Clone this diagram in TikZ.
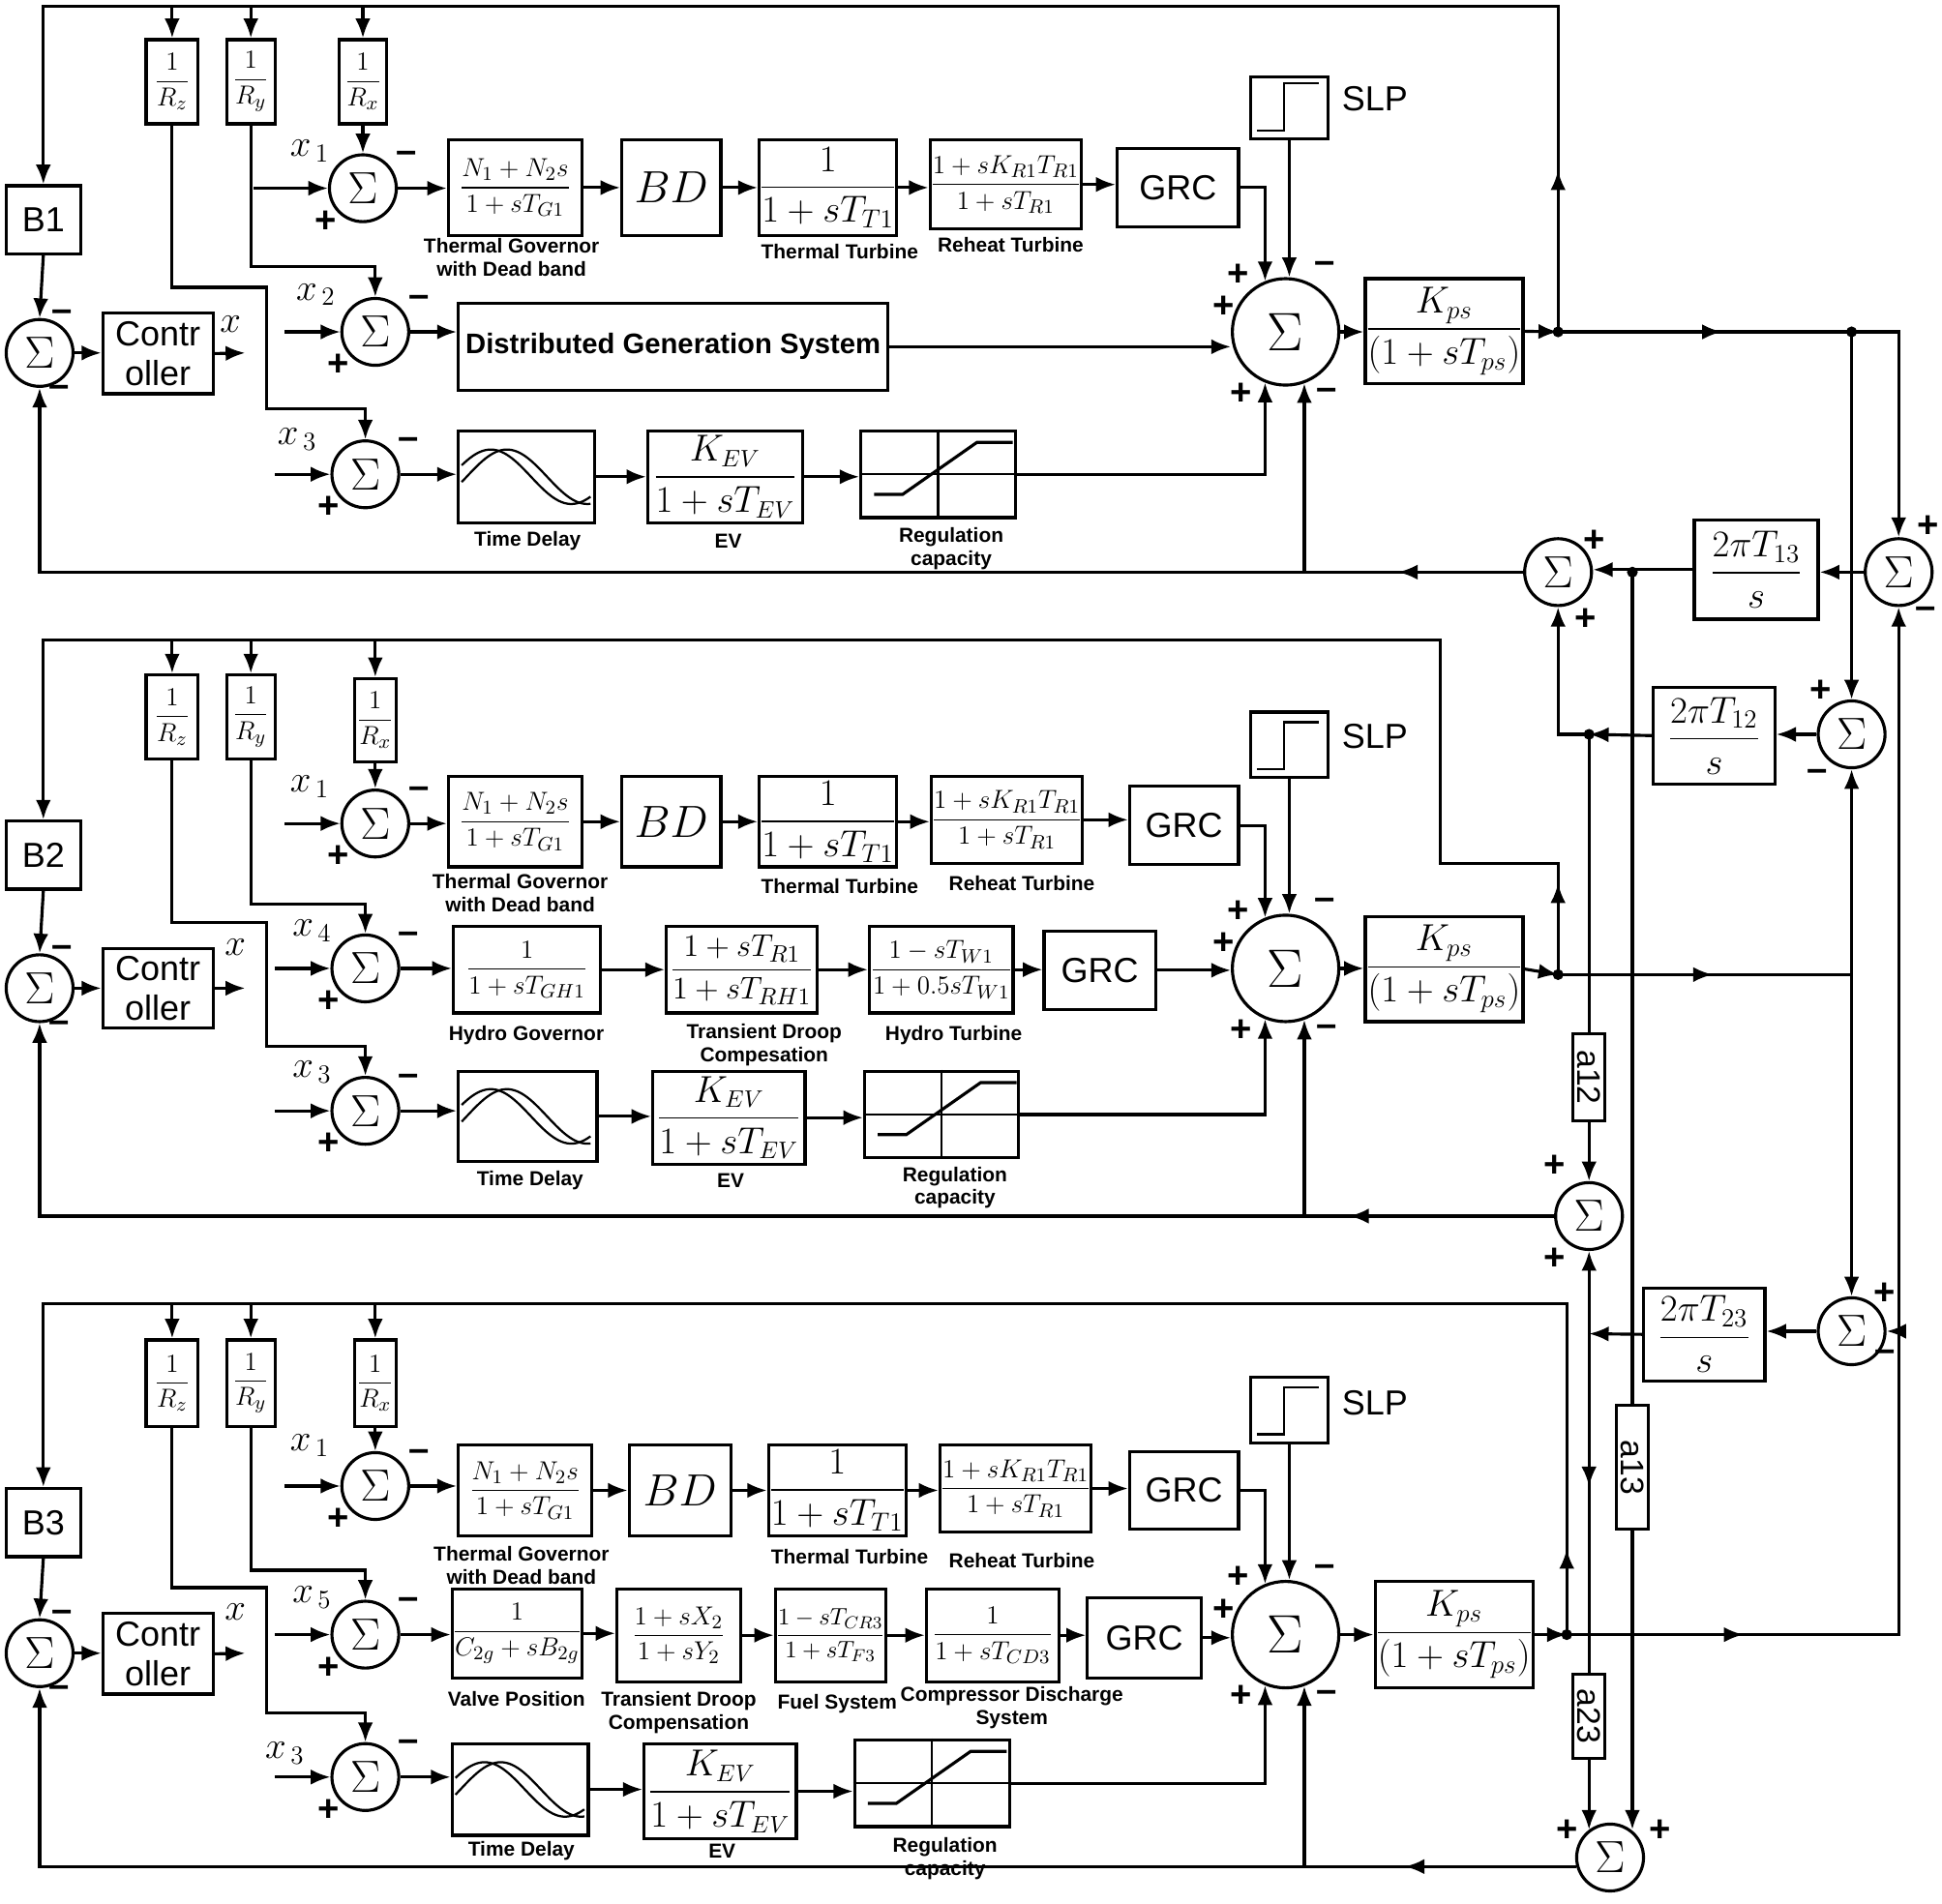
\documentclass[tikz,border=0pt]{standalone}
\usepackage{fontspec}
\setsansfont{Liberation Sans}
\usepackage{amsmath}
\usetikzlibrary{arrows.meta,calc,decorations.markings}

\tikzset{
  arr/.style={-{Latex[length=9pt,width=7pt]}},
  mid/.style={postaction={decorate},decoration={markings,mark=at position #1 with {\arrow{Latex[length=9pt,width=7pt]}}}},
  blk/.style={draw,rectangle,inner sep=0pt,align=center,font=\fontsize{13}{15}\selectfont},
  tblk/.style={blk,font=\sffamily\fontsize{16}{18}\selectfont},
  sumn/.style={draw,circle,minimum size=1.08cm,inner sep=0pt,font=\fontsize{20}{20}\selectfont},
  bigsum/.style={draw,circle,minimum size=1.72cm,inner sep=0pt,font=\fontsize{26}{26}\selectfont},
  lbl/.style={align=center,font=\sffamily\bfseries\fontsize{9.3}{10.5}\selectfont},
  sgn/.style={font=\sffamily\bfseries\fontsize{17}{17}\selectfont,inner sep=0pt},
  xl/.style={font=\fontsize{18}{18}\selectfont,inner sep=0pt},
  rot/.style={blk,font=\sffamily\fontsize{15}{15}\selectfont}
}
% box from corner pixels
\newcommand\blk[7][blk]{\node[#1,minimum width={(#5-#3)*0.02cm},minimum height={(#6-#4)*0.02cm}] (#2) at ({(#3+#5)/2},{(#4+#6)/2}) {#7};}
\newcommand\ssgn[1]{\node[sgn] at ($(#1)+(35,-25)$) {--}; \node[sgn] at ($(#1)+(-30,27)$) {+};}
\newcommand\bsgn[1]{\node[sgn] at ($(#1)+(-38,-46)$) {+}; \node[sgn] at ($(#1)+(-50,-20)$) {+};
  \node[sgn] at ($(#1)+(32,-52)$) {--}; \node[sgn] at ($(#1)+(-36,50)$) {+}; \node[sgn] at ($(#1)+(33,50)$) {--};}
\newcommand\rcap[1]{\draw[line width=1pt] (#1.north) -- (#1.south) (#1.west) -- (#1.east);
  \draw[shift={(#1.south west)}] (12,-20) -- (35,-20) -- (95,-62) -- (124,-62);}
\newcommand\tdel[1]{\draw[line width=1pt,shift={(#1.west)},domain=4:108,samples=50,smooth] plot (\x,{-22*sin((\x+5)*2.77)});
  \draw[line width=1pt,shift={(#1.west)},domain=4:108,samples=50,smooth] plot (\x,{-22*sin((\x-8)*2.77)});}
\newcommand\slp[1]{\draw[line width=1pt,shift={(#1.south west)}] (6,-8) -- (28,-8) -- (28,-46) -- (56,-46);}

\begin{document}
\begin{tikzpicture}[x=0.02cm,y=-0.02cm,line width=1.4pt]
\useasboundingbox (0,0) rectangle (1568,1537);

% ---------------- area 1 ----------------
\coordinate (tp1) at (1258,5);
\coordinate (o1) at (1258,268);
\coordinate (o1b) at (1495,268);
\coordinate (xo1) at (198,285);
\blk{rz1}{118}{32}{160}{100}{$\dfrac{1}{R_z}$}
\blk{ry1}{183}{32}{222}{100}{$\dfrac{1}{R_y}$}
\blk{rx1}{274}{32}{312}{100}{$\dfrac{1}{R_x}$}
\blk[tblk]{b1}{5}{150}{65}{205}{B1}
\node[sumn] (sl1) at (32,285) {$\Sigma$};
\blk[tblk]{c1}{83}{253}{172}{318}{Contr\\oller}
\node[xl] at (186,262) {$x$};
\node[sumn] (sa1) at (293,152) {$\Sigma$};
\node[sumn] (sb1) at (303,268) {$\Sigma$};
\node[sumn] (sc1) at (295,383) {$\Sigma$};
\node[xl] at (250,122) {$x_{\,1}$};
\node[xl] at (255,238) {$x_{\,2}$};
\node[xl] at (240,355) {$x_{\,3}$};
\ssgn{sa1} \ssgn{sb1} \ssgn{sc1}
\node[sgn] at (50,255) {--}; \node[sgn] at (48,316) {--};
\blk{tg1}{362}{113}{470}{190}{$\dfrac{N_1+N_2s}{1+sT_{G1}}$}
\blk[blk,font=\fontsize{22}{22}\selectfont]{bd1}{502}{113}{582}{190}{$BD$}
\blk{tt1}{617}{113}{720}{190}{\fontsize{17}{19}\selectfont$\dfrac{1}{1+sT_{T1}}$}
\blk{rt1}{754}{113}{870}{185}{$\dfrac{1+sK_{R1}T_{R1}}{1+sT_{R1}}$}
\blk[tblk]{grc1}{902}{120}{1000}{183}{GRC}
\blk{slp1}{1010}{62}{1072}{112}{}
\node[font=\sffamily\fontsize{16}{18}\selectfont] at (1110,80) {SLP};
\node[bigsum] (bs1) at (1038,268) {$\Sigma$};
\bsgn{bs1}
\blk{kp1}{1110}{225}{1222}{310}{\fontsize{17}{19}\selectfont$\dfrac{K_{ps}}{(1+sT_{ps})}$}
\blk[blk,font=\sffamily\bfseries\fontsize{13}{15}\selectfont]{dg1}{370}{245}{717}{315}{Distributed Generation System}
\blk{de1}{370}{348}{480}{422}{}
\blk{ev1}{523}{348}{648}{422}{\fontsize{16}{18}\selectfont$\dfrac{K_{EV}}{1+sT_{EV}}$}
\blk{rc1}{695}{348}{820}{418}{}
\tdel{de1} \rcap{rc1} \slp{slp1}
\node[lbl] at (413,208) {Thermal Governor\\with Dead band};
\node[lbl] at (678,203) {Thermal Turbine};
\node[lbl] at (816,198) {Reheat Turbine};
\node[lbl] at (426,437) {Time Delay};
\node[lbl] at (588,437) {EV};
\node[lbl] at (768,443) {Regulation\\capacity};

\draw[arr,mid=0.08] (o1) -- (tp1) -| (b1.north);
\draw[arr] (rz1.north |- tp1) -- (rz1.north);
\draw[arr] (ry1.north |- tp1) -- (ry1.north);
\draw[arr] (rx1.north |- tp1) -- (rx1.north);
\draw[arr] (b1.south) -- (sl1.north);
\draw[arr] (sl1.east) -- (sl1.east -| c1.west);
\draw[arr] (c1.east) -- (xo1);
\draw[arr] (rx1.south) -- (sa1.north);
\draw[arr] (ry1.south) |- (303,215) -- (sb1.north);
\draw[arr] (rz1.south) |- (215,232) |- (295,330) -- (sc1.north);
\draw[arr] (sa1.west) ++(-60,0) -- (sa1.west);
\draw[arr] (sb1.west) ++(-45,0) -- (sb1.west);
\draw[arr] (sc1.west) ++(-45,0) -- (sc1.west);
\draw[arr] (sa1.east) -- (sa1.east -| tg1.west);
\draw[arr] (tg1.east) -- (tg1.east -| bd1.west);
\draw[arr] (bd1.east) -- (bd1.east -| tt1.west);
\draw[arr] (tt1.east) -- (tt1.east -| rt1.west);
\draw[arr] (rt1.east) -- (rt1.east -| grc1.west);
\draw[arr] (grc1.east) -| (bs1.112);
\draw[arr] (slp1.south) -- (slp1.south |- bs1.north);
\draw[arr] (sb1.east) -- (sb1.east -| dg1.west);
\draw[arr] (dg1.east) -- (dg1.east -| bs1.west);
\draw[arr] (sc1.east) -- (sc1.east -| de1.west);
\draw[arr] (de1.east) -- (de1.east -| ev1.west);
\draw[arr] (ev1.east) -- (ev1.east -| rc1.west);
\draw[arr] (rc1.east) -| (bs1.248);
\draw[arr] (bs1.east) -- (bs1.east -| kp1.west);
\draw[arr] (kp1.east) -- (o1);

% ---------------- area 2 ----------------
\coordinate (tp2) at (1163,517);
\coordinate (o2) at (1258,787);
\coordinate (r2) at (1495,787);
\coordinate (xo2) at (198,798);
\blk{rz2}{118}{545}{160}{613}{$\dfrac{1}{R_z}$}
\blk{ry2}{183}{545}{222}{613}{$\dfrac{1}{R_y}$}
\blk{rx2}{286}{548}{320}{615}{$\dfrac{1}{R_x}$}
\blk[tblk]{b2}{5}{663}{65}{718}{B2}
\node[sumn] (sl2) at (32,798) {$\Sigma$};
\blk[tblk]{c2}{83}{766}{172}{830}{Contr\\oller}
\node[xl] at (190,765) {$x$};
\node[sumn] (sa2) at (303,665) {$\Sigma$};
\node[sumn] (sb2) at (295,782) {$\Sigma$};
\node[sumn] (sc2) at (295,897) {$\Sigma$};
\node[xl] at (250,635) {$x_{\,1}$};
\node[xl] at (252,752) {$x_{\,4}$};
\node[xl] at (252,866) {$x_{\,3}$};
\ssgn{sa2} \ssgn{sb2} \ssgn{sc2}
\node[sgn] at (50,768) {--}; \node[sgn] at (48,829) {--};
\blk{tg2}{362}{627}{470}{700}{$\dfrac{N_1+N_2s}{1+sT_{G1}}$}
\blk[blk,font=\fontsize{22}{22}\selectfont]{bd2}{502}{627}{582}{700}{$BD$}
\blk{tt2}{617}{627}{720}{700}{\fontsize{17}{19}\selectfont$\dfrac{1}{1+sT_{T1}}$}
\blk{rt2}{756}{627}{870}{697}{$\dfrac{1+sK_{R1}T_{R1}}{1+sT_{R1}}$}
\blk[tblk]{grc2}{912}{635}{1000}{698}{GRC}
\blk{slp2}{1010}{575}{1072}{628}{}
\node[font=\sffamily\fontsize{16}{18}\selectfont] at (1110,595) {SLP};
\node[bigsum] (bs2) at (1038,782) {$\Sigma$};
\bsgn{bs2}
\blk{kp2}{1110}{740}{1222}{825}{\fontsize{17}{19}\selectfont$\dfrac{K_{ps}}{(1+sT_{ps})}$}
\blk{hg2}{366}{748}{485}{818}{$\dfrac{1}{1+sT_{GH1}}$}
\blk{td2}{538}{748}{660}{818}{\fontsize{15}{17}\selectfont$\dfrac{1+sT_{R1}}{1+sT_{RH1}}$}
\blk{ht2}{702}{748}{818}{818}{$\dfrac{1-sT_{W1}}{1+0.5sT_{W1}}$}
\blk[tblk]{gr2b}{843}{752}{933}{815}{GRC}
\blk{de2}{370}{865}{482}{938}{}
\blk{ev2}{527}{865}{650}{940}{\fontsize{16}{18}\selectfont$\dfrac{K_{EV}}{1+sT_{EV}}$}
\blk{rc2}{698}{865}{822}{935}{}
\tdel{de2} \rcap{rc2} \slp{slp2}
\node[lbl] at (420,721) {Thermal Governor\\with Dead band};
\node[lbl] at (678,716) {Thermal Turbine};
\node[lbl] at (825,713) {Reheat Turbine};
\node[lbl] at (425,836) {Hydro Governor};
\node[lbl] at (617,844) {Transient Droop\\Compesation};
\node[lbl] at (770,836) {Hydro Turbine};
\node[lbl] at (428,953) {Time Delay};
\node[lbl] at (590,953) {EV};
\node[lbl] at (771,959) {Regulation\\capacity};

\draw[arr,mid=0.045] (o2) -- (1258,697) -- (1163,697) -- (tp2) -| (b2.north);
\draw[arr] (rz2.north |- tp2) -- (rz2.north);
\draw[arr] (ry2.north |- tp2) -- (ry2.north);
\draw[arr] (rx2.north |- tp2) -- (rx2.north);
\draw[arr] (b2.south) -- (sl2.north);
\draw[arr] (sl2.east) -- (sl2.east -| c2.west);
\draw[arr] (c2.east) -- (xo2);
\draw[arr] (rx2.south) -- (sa2.north);
\draw[arr] (ry2.south) |- (295,730) -- (sb2.north);
\draw[arr] (rz2.south) |- (215,745) |- (295,845) -- (sc2.north);
\draw[arr] (sa2.west) ++(-45,0) -- (sa2.west);
\draw[arr] (sb2.west) ++(-45,0) -- (sb2.west);
\draw[arr] (sc2.west) ++(-45,0) -- (sc2.west);
\draw[arr] (sa2.east) -- (sa2.east -| tg2.west);
\draw[arr] (tg2.east) -- (tg2.east -| bd2.west);
\draw[arr] (bd2.east) -- (bd2.east -| tt2.west);
\draw[arr] (tt2.east) -- (tt2.east -| rt2.west);
\draw[arr] (rt2.east) -- (rt2.east -| grc2.west);
\draw[arr] (grc2.east) -| (bs2.112);
\draw[arr] (slp2.south) -- (slp2.south |- bs2.north);
\draw[arr] (sb2.east) -- (sb2.east -| hg2.west);
\draw[arr] (hg2.east) -- (hg2.east -| td2.west);
\draw[arr] (td2.east) -- (td2.east -| ht2.west);
\draw[arr] (ht2.east) -- (ht2.east -| gr2b.west);
\draw[arr] (gr2b.east) -- (gr2b.east -| bs2.west);
\draw[arr] (sc2.east) -- (sc2.east -| de2.west);
\draw[arr] (de2.east) -- (de2.east -| ev2.west);
\draw[arr] (ev2.east) -- (ev2.east -| rc2.west);
\draw[arr] (rc2.east) -| (bs2.248);
\draw[arr] (bs2.east) -- (bs2.east -| kp2.west);
\draw[arr] (kp2.east) -- (o2);

% ---------------- area 3 ----------------
\coordinate (tp3) at (1265,1053);
\coordinate (o3) at (1265,1320);
\coordinate (xo3) at (198,1335);
\blk{rz3}{118}{1082}{160}{1152}{$\dfrac{1}{R_z}$}
\blk{ry3}{183}{1082}{222}{1152}{$\dfrac{1}{R_y}$}
\blk{rx3}{286}{1082}{320}{1152}{$\dfrac{1}{R_x}$}
\blk[tblk]{b3}{5}{1202}{65}{1257}{B3}
\node[sumn] (sl3) at (32,1335) {$\Sigma$};
\blk[tblk]{c3}{83}{1303}{172}{1368}{Contr\\oller}
\node[xl] at (190,1302) {$x$};
\node[sumn] (sa3) at (303,1200) {$\Sigma$};
\node[sumn] (sb3) at (295,1320) {$\Sigma$};
\node[sumn] (sc3) at (295,1435) {$\Sigma$};
\node[xl] at (250,1167) {$x_{\,1}$};
\node[xl] at (252,1290) {$x_{\,5}$};
\node[xl] at (230,1416) {$x_{\,3}$};
\ssgn{sa3} \ssgn{sb3} \ssgn{sc3}
\node[sgn] at (50,1305) {--}; \node[sgn] at (48,1366) {--};
\blk{tg3}{370}{1167}{478}{1240}{$\dfrac{N_1+N_2s}{1+sT_{G1}}$}
\blk[blk,font=\fontsize{22}{22}\selectfont]{bd3}{508}{1167}{590}{1240}{$BD$}
\blk{tt3}{625}{1167}{727}{1240}{\fontsize{17}{19}\selectfont$\dfrac{1}{1+sT_{T1}}$}
\blk{rt3}{762}{1167}{878}{1237}{$\dfrac{1+sK_{R1}T_{R1}}{1+sT_{R1}}$}
\blk[tblk]{grc3}{912}{1172}{1000}{1235}{GRC}
\blk{slp3}{1010}{1112}{1072}{1165}{}
\node[font=\sffamily\fontsize{16}{18}\selectfont] at (1110,1133) {SLP};
\node[bigsum] (bs3) at (1038,1320) {$\Sigma$};
\bsgn{bs3}
\blk{kp3}{1118}{1277}{1230}{1363}{\fontsize{17}{19}\selectfont$\dfrac{K_{ps}}{(1+sT_{ps})}$}
\blk{vp3}{368}{1283}{467}{1355}{$\dfrac{1}{C_{2g}+sB_{2g}}$}
\blk{td3}{498}{1283}{598}{1358}{$\dfrac{1+sX_2}{1+sY_2}$}
\blk{fs3}{628}{1283}{713}{1358}{\fontsize{11}{13}\selectfont$\dfrac{1-sT_{CR3}}{1+sT_{F3}}$}
\blk{cd3}{748}{1283}{855}{1358}{$\dfrac{1}{1+sT_{CD3}}$}
\blk[tblk]{gr3b}{878}{1290}{970}{1355}{GRC}
\blk{de3}{365}{1408}{475}{1482}{}
\blk{ev3}{520}{1408}{643}{1485}{\fontsize{16}{18}\selectfont$\dfrac{K_{EV}}{1+sT_{EV}}$}
\blk{rc3}{690}{1405}{815}{1475}{}
\tdel{de3} \rcap{rc3} \slp{slp3}
\node[lbl] at (421,1264) {Thermal Governor\\with Dead band};
\node[lbl] at (686,1257) {Thermal Turbine};
\node[lbl] at (825,1260) {Reheat Turbine};
\node[lbl] at (417,1372) {Valve Position};
\node[lbl] at (548,1383) {Transient Droop\\Compensation};
\node[lbl] at (676,1376) {Fuel System};
\node[lbl] at (817,1379) {Compressor Discharge\\System};
\node[lbl] at (421,1495) {Time Delay};
\node[lbl] at (583,1495) {EV};
\node[lbl] at (763,1501) {Regulation\\capacity};

\draw[arr,mid=0.042] (o3) -- (tp3) -| (b3.north);
\draw[arr] (rz3.north |- tp3) -- (rz3.north);
\draw[arr] (ry3.north |- tp3) -- (ry3.north);
\draw[arr] (rx3.north |- tp3) -- (rx3.north);
\draw[arr] (b3.south) -- (sl3.north);
\draw[arr] (sl3.east) -- (sl3.east -| c3.west);
\draw[arr] (c3.east) -- (xo3);
\draw[arr] (rx3.south) -- (sa3.north);
\draw[arr] (ry3.south) |- (295,1268) -- (sb3.north);
\draw[arr] (rz3.south) |- (215,1282) |- (295,1383) -- (sc3.north);
\draw[arr] (sa3.west) ++(-45,0) -- (sa3.west);
\draw[arr] (sb3.west) ++(-45,0) -- (sb3.west);
\draw[arr] (sc3.west) ++(-45,0) -- (sc3.west);
\draw[arr] (sa3.east) -- (sa3.east -| tg3.west);
\draw[arr] (tg3.east) -- (tg3.east -| bd3.west);
\draw[arr] (bd3.east) -- (bd3.east -| tt3.west);
\draw[arr] (tt3.east) -- (tt3.east -| rt3.west);
\draw[arr] (rt3.east) -- (rt3.east -| grc3.west);
\draw[arr] (grc3.east) -| (bs3.112);
\draw[arr] (slp3.south) -- (slp3.south |- bs3.north);
\draw[arr] (sb3.east) -- (sb3.east -| vp3.west);
\draw[arr] (vp3.east) -- (vp3.east -| td3.west);
\draw[arr] (td3.east) -- (td3.east -| fs3.west);
\draw[arr] (fs3.east) -- (fs3.east -| cd3.west);
\draw[arr] (cd3.east) -- (cd3.east -| gr3b.west);
\draw[arr] (gr3b.east) -- (gr3b.east -| bs3.west);
\draw[arr] (sc3.east) -- (sc3.east -| de3.west);
\draw[arr] (de3.east) -- (de3.east -| ev3.west);
\draw[arr] (ev3.east) -- (ev3.east -| rc3.west);
\draw[arr] (rc3.east) -| (bs3.248);
\draw[arr] (bs3.east) -- (bs3.east -| kp3.west);
\draw[arr] (kp3.east) -- (o3);

% ---------------- tie lines ----------------
\node[sumn] (sr13) at (1533,462) {$\Sigma$};
\node[sumn] (sx13) at (1258,462) {$\Sigma$};
\node[sumn] (sr12) at (1495,593) {$\Sigma$};
\node[sumn] (s12) at (1283,982) {$\Sigma$};
\node[sumn] (sr23) at (1495,1075) {$\Sigma$};
\node[sumn] (sbt) at (1300,1500) {$\Sigma$};
\blk{t13}{1368}{420}{1468}{500}{\fontsize{17}{19}\selectfont$\dfrac{2\pi T_{13}}{s}$}
\blk{t12}{1335}{555}{1433}{633}{\fontsize{17}{19}\selectfont$\dfrac{2\pi T_{12}}{s}$}
\blk{t23}{1327}{1040}{1425}{1115}{\fontsize{17}{19}\selectfont$\dfrac{2\pi T_{23}}{s}$}
\blk[rot]{a12}{1270}{835}{1296}{905}{\rotatebox{-90}{a12}}
\blk[rot]{a13}{1305}{1135}{1331}{1235}{\rotatebox{-90}{a13}}
\blk[rot]{a23}{1270}{1352}{1296}{1420}{\rotatebox{-90}{a23}}
\coordinate (d13) at (1318,462);
\coordinate (d12) at (1283,593);
\coordinate (d23) at (1283,1077);
\node[sgn] at (1557,425) {+}; \node[sgn] at (1555,495) {--};
\node[sgn] at (1287,437) {+}; \node[sgn] at (1280,500) {+};
\node[sgn] at (1470,558) {+}; \node[sgn] at (1467,626) {--};
\node[sgn] at (1255,942) {+}; \node[sgn] at (1255,1017) {+};
\node[sgn] at (1522,1045) {+}; \node[sgn] at (1522,1095) {--};
\node[sgn] at (1265,1478) {+}; \node[sgn] at (1340,1478) {+};

\draw[arr,mid=0.3] (o1) -| (sr13.north);
\draw[arr] (o1b) -- (sr12.north);
\draw[arr,mid=0.13] (o3) -| (sr13.south);
\draw[arr] (sr13.south |- sr23) -- (sr23.east);
\draw[arr,mid=0.31] (o2) -- (r2) -- (sr12.south);
\draw[arr] (r2) -- (sr23.north);
\draw[arr] (sr13.west) -- (sr13.west -| t13.east);
\draw[arr] (t13.west) -- (t13.west -| sx13.east);
\draw[arr] (sr12.west) -- (sr12.west -| t12.east);
\draw[arr] (t12.west) -- (d12);
\draw[arr] (d12) -| (sx13.south);
\draw[arr] (sr23.west) -- (sr23.west -| t23.east);
\draw[arr] (t23.west) -- (d23);
\draw (d12) -- (a12.north);
\draw[arr] (a12.south) -- (s12.north);
\draw[arr] (d23) -- (s12.south);
\draw[mid=0.45] (d23) -- (a23.north);
\draw[arr] (a23.south) -- (a23.south |- sbt.127);
\draw (d13) -- (a13.north);
\draw[arr] (a13.south) -- (a13.south |- sbt.53);
\fill (o1) circle (2.5pt); \fill (o1b) circle (2.5pt); \fill (o2) circle (2.5pt);
\fill (o3) circle (2.5pt); \fill (d13) circle (2.5pt); \fill (d12) circle (2.5pt);

% feedback to the areas
\draw[arr,mid=0.075] (sx13.west) -| (sl1.south);
\draw[arr] (bs1.290 |- sx13) -- (bs1.290);
\draw[arr,mid=0.12] (s12.west) -| (sl2.south);
\draw[arr] (bs2.290 |- s12) -- (bs2.290);
\draw[arr,mid=0.1] (sbt.195) -| (sl3.south);
\draw[arr] (bs3.290 |- sbt.195) -- (bs3.290);
\end{tikzpicture}
\end{document}
